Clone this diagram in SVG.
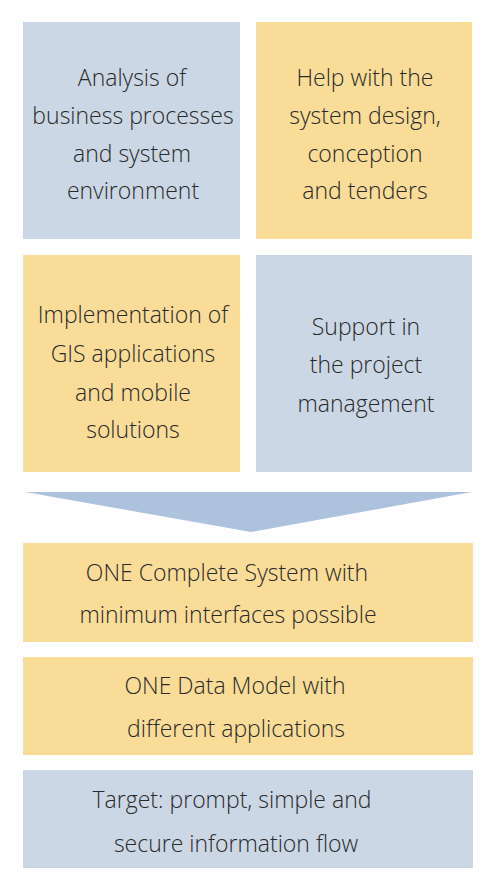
<svg xmlns="http://www.w3.org/2000/svg" width="492" height="892" viewBox="0 0 492 892">
<style>
.blue{fill:#cbd7e5}
.yellow{fill:#f8dc98}
text{font-family:"Open Sans","Noto Sans",sans-serif;font-weight:300;font-size:23px;fill:#2a2a2a;text-anchor:middle}
</style>
<rect width="492" height="892" fill="#fff"/>
<g id="n1"><rect class="blue" x="23" y="22" width="217" height="217"/>
<text x="132" y="86">Analysis of</text><text x="133" y="124">business processes</text><text x="132" y="162">and system</text><text x="133" y="199">environment</text></g>
<g id="n2"><rect class="yellow" x="256" y="22" width="216" height="217"/>
<text x="365" y="86">Help with the</text><text x="365" y="124">system design,</text><text x="365" y="162">conception</text><text x="365" y="199">and tenders</text></g>
<g id="n3"><rect class="yellow" x="23" y="255" width="217" height="217"/>
<text x="133" y="323">Implementation of</text><text x="133" y="362">GIS applications</text><text x="133" y="401">and mobile</text><text x="133" y="438">solutions</text></g>
<g id="n4"><rect class="blue" x="256" y="255" width="216" height="217"/>
<text x="366" y="335">Support in</text><text x="366" y="373">the project</text><text x="366" y="412">management</text></g>
<g id="connectors"><polygon points="25,492 472,492 251,532" fill="#adc3dd"/></g>
<g id="n5"><rect class="yellow" x="23" y="543" width="450" height="99"/>
<text x="227" y="581">ONE Complete System with</text><text x="228" y="623">minimum interfaces possible</text></g>
<g id="n6"><rect class="yellow" x="23" y="657" width="450" height="98"/>
<text x="235" y="694">ONE Data Model with</text><text x="236" y="737">different applications</text></g>
<g id="n7"><rect class="blue" x="23" y="770" width="450" height="98"/>
<text x="232" y="808">Target: prompt, simple and</text><text x="236" y="852">secure information flow</text></g>
</svg>
